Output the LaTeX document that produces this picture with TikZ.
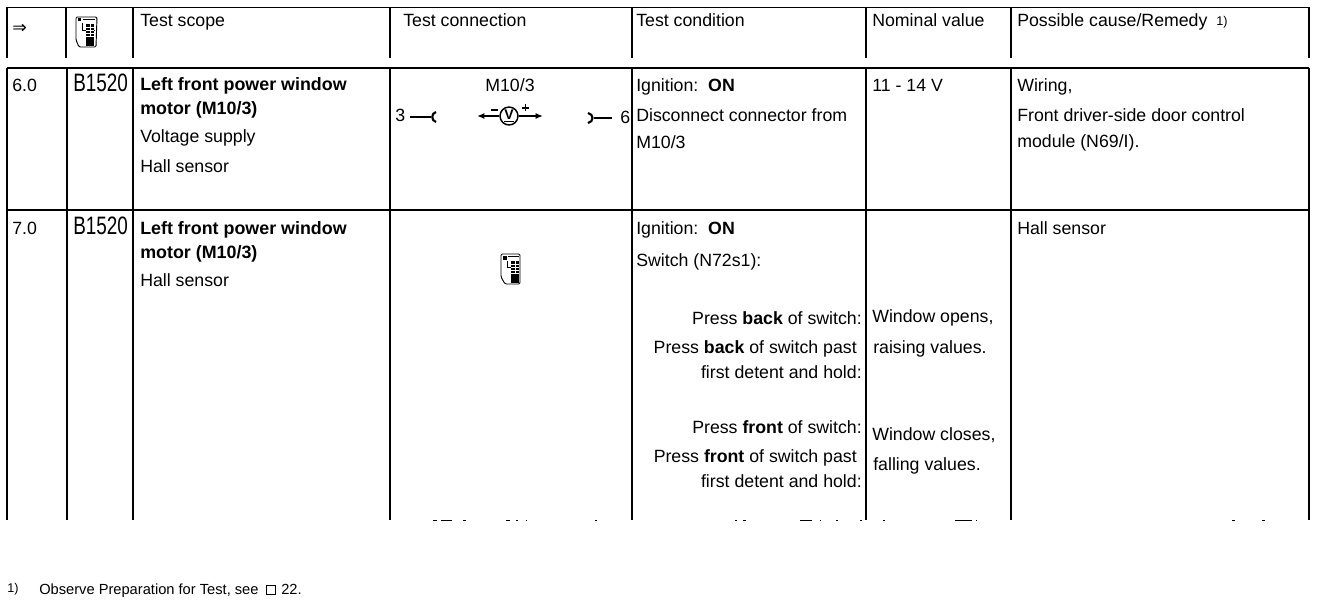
\documentclass[tikz,border=0pt]{standalone}
\usepackage{fontspec}
\usetikzlibrary{arrows.meta}
\setmainfont{Liberation Sans}
\newfontfamily\arrowfont{DejaVu Sans}
\newfontfamily\segfont[FakeStretch=0.75]{Liberation Sans}
\begin{document}
\begin{tikzpicture}[x=0.75pt,y=-0.75pt,
  rule/.style={line width=1.1pt,black},
  thinrule/.style={line width=0.8pt,black},
  toprule/.style={line width=0.5pt,black},
  txt/.style={anchor=base west,inner sep=0pt,font=\fontsize{13.3}{15}\selectfont},
  txtr/.style={anchor=base east,inner sep=0pt,font=\fontsize{13.3}{15}\selectfont},
  txtb/.style={txt,font=\fontsize{13.4}{15}\selectfont\bfseries},
  seg/.style={anchor=base west,inner sep=0pt,font=\segfont\fontsize{18.9}{20}\selectfont},
  small/.style={anchor=base west,inner sep=0pt,font=\fontsize{11}{12}\selectfont},
  tiny/.style={anchor=base west,inner sep=0pt,font=\fontsize{9.5}{10}\selectfont},
  meter/.style={circle,draw,line width=1.1pt,inner sep=0pt,minimum size=13.5pt,font=\fontsize{10.5}{11}\selectfont\bfseries},
  hook/.style={line width=1.6pt},
  lead/.style={line width=0.9pt},
  arrowlead/.style={line width=1.1pt,-{Latex[length=5.5pt,width=4.5pt]}},
  fleck/.style={line width=0.7pt,black}]
\useasboundingbox (0,0) rectangle (1328,606);
% header rules
\draw[toprule] (7,7) -- (1309,7);
\foreach \x in {7,66,133,390,632,866,1011,1309}{\draw[thinrule] (\x,7) -- (\x,58);}
% body rules
\draw[rule] (7,68) -- (1309,68);
\draw[rule] (7,210) -- (1309,210);
\foreach \x in {7,67,133,390,632,866,1011,1309}{\draw[rule] (\x,68) -- (\x,520);}
% bottom flecks
\foreach \a/\b in {433/437,441/452,463/466,506/510,516/518,526/527,595/597,735/737,743/746,800/812,820/821,836/838,860/862,883/885,955/972,976/977,1232/1235,1262/1265}{
  \draw[fleck] (\a,520) -- (\b,520);}
% header text
\node[txt,font=\arrowfont\fontsize{13}{14}\selectfont] (arrowh) at (12,34) {⇒};
\node[txt] (h1) at (140,27) {Test scope};
\node[txt] (h2) at (403,27) {Test connection};
\node[txt] (h3) at (636,27) {Test condition};
\node[txt] (h4) at (872,27) {Nominal value};
\node[txt] (h5) at (1017,27) {Possible cause/Remedy};
\node[tiny] (h5n) at (1216,26) {1)};
% tester icon in header
\begin{scope}[shift={(76,16)},line width=0.7pt]
  \draw[rounded corners=1pt] (0,1) -- (0,24) -- (3,31) -- (20,31) -- (21,1) -- cycle;
  \fill (2,2) rectangle (5,5);
  \draw (7,3) -- (19,3) (6,7) -- (6,14) -- (19,14);
  \fill (10,8) rectangle (18,30);
  \draw[white,line width=0.6pt] (10,11) -- (18,11) (10,14) -- (18,14) (10,17) -- (18,17) (10,20) -- (18,20) (14,8) -- (14,20);
\end{scope}
% row 6
\node[txt] (n6) at (12,92) {6.0};
\node[seg] (c6) at (73,92) {B1520};
\node[txtb] (t6a) at (140,91) {Left front power window};
\node[txtb] (t6b) at (140,115) {motor (M10/3)};
\node[txt] (t6c) at (140,143) {Voltage supply};
\node[txt] (t6d) at (140,173) {Hall sensor};
\node[txt,anchor=base] (m) at (510,92) {M10/3};
\node[txt] (p3) at (395,122) {3};
\node[txt] (p6) at (620,124) {6};
\coordinate (s3a) at (410,117);
\coordinate (s3b) at (431,117);
\coordinate (s6a) at (594,118);
\coordinate (s6b) at (612,118);
\draw[lead] (s3a) -- (s3b);
\draw[hook] (436,112) .. controls (431,113) and (431,121) .. (436,122);
\draw[lead] (s6a) -- (s6b);
\draw[hook] (588,113) .. controls (594,114) and (594,122) .. (588,123);
\node[meter] (v) at (509,116) {\underline{V}};
\coordinate (la) at (477,116);
\coordinate (ra) at (543,116);
\draw[arrowlead] (v) -- (la);
\draw[arrowlead] (v) -- (ra);
\coordinate (ma) at (491,110);
\coordinate (mb) at (498,110);
\draw[line width=1.1pt] (ma) -- (mb);
\coordinate (pa) at (522,108);
\coordinate (pb) at (529,108);
\coordinate (pc) at (525.5,104.5);
\coordinate (pd) at (525.5,111.5);
\draw[line width=1.1pt] (pa) -- (pb) (pc) -- (pd);
\node[txt] (c6a) at (636,92) {Ignition:\ \ \textbf{ON}};
\node[txt] (c6b) at (636,122) {Disconnect connector from};
\node[txt] (c6c) at (636,149) {M10/3};
\node[txt] (nv6) at (872,92) {11 - 14 V};
\node[txt] (r6a) at (1017,92) {Wiring,};
\node[txt] (r6b) at (1017,122) {Front driver-side door control};
\node[txt] (r6c) at (1017,148) {module (N69/I).};
% row 7
\node[txt] (n7) at (12,234) {7.0};
\node[seg] (c7) at (73,234) {B1520};
\node[txtb] (t7a) at (140,234) {Left front power window};
\node[txtb] (t7b) at (140,258) {motor (M10/3)};
\node[txt] (t7c) at (140,286) {Hall sensor};
\begin{scope}[shift={(501,253)},line width=0.7pt]
  \draw[rounded corners=1pt] (0,1) -- (0,24) -- (4,31) -- (19,31) -- (19,1) -- cycle;
  \fill (2,3) rectangle (6,7);
  \draw (7,3) -- (18,3) (6,8) -- (6,14) -- (18,14);
  \fill (10,8) rectangle (18,30);
  \draw[white,line width=0.6pt] (10,11) -- (18,11) (10,14) -- (18,14) (10,17) -- (18,17) (10,20) -- (18,20) (14,8) -- (14,20);
\end{scope}
\node[txt] (c7a) at (636,234) {Ignition:\ \ \textbf{ON}};
\node[txt] (c7b) at (636,266) {Switch (N72s1):};
\node[txtr] (c7c) at (862,324) {Press \textbf{back} of switch:};
\node[txtr] (c7d) at (857,353) {Press \textbf{back} of switch past};
\node[txtr] (c7e) at (862,378) {first detent and hold:};
\node[txtr] (c7f) at (862,433) {Press \textbf{front} of switch:};
\node[txtr] (c7g) at (857,462) {Press \textbf{front} of switch past};
\node[txtr] (c7h) at (862,487) {first detent and hold:};
\node[txt] (nv7a) at (872,322) {Window opens,};
\node[txt] (nv7b) at (873,353) {raising values.};
\node[txt] (nv7c) at (872,440) {Window closes,};
\node[txt] (nv7d) at (873,470) {falling values.};
\node[txt] (r7a) at (1017,234) {Hall sensor};
% footnote
\node[tiny] (f1) at (7,592) {1)};
\node[small] (f2) at (39,594) {Observe Preparation for Test, see};
\node[draw,line width=0.9pt,minimum size=6.5pt,inner sep=0pt,anchor=south west] (fb) at (266,595) {};
\node[small] (f3) at (281,594) {22.};
\end{tikzpicture}
\end{document}
